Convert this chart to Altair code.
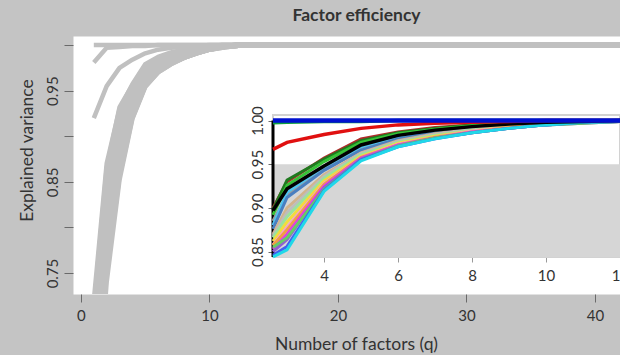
import altair as alt
import pandas as pd

# ---------------- data ----------------
q = [1, 2, 3, 4, 5, 6, 7, 8, 9, 10, 11, 12, 13, 50]

bundle_names = ["s01", "s02", "s03", "s04", "s05", "s06", "s07", "s08", "s09",
                "s10", "s11", "s12", "s13", "s14", "s15", "s16", "s17"]
bundle_colors = ["#b02a2a", "#1f7a1f", "#36c236", "#9a9a9a", "#4fc3f0", "#4a7fc0",
                 "#d2b48c", "#bdbdbd", "#9be39b", "#f2dc3c", "#f7a1c4", "#f0a040",
                 "#e040e0", "#9060d0", "#66cc66", "#4060f0", "#20d8e8"]
s01 = [0.72, 0.870, 0.930, 0.957, 0.979, 0.987, 0.992, 0.995, 0.997, 0.999, 1.0, 1.0, 1.0, 1.0]
s02 = [0.71, 0.865, 0.932, 0.956, 0.977, 0.986, 0.991, 0.995, 0.997, 0.999, 1.0, 1.0, 1.0, 1.0]
s03 = [0.70, 0.860, 0.926, 0.953, 0.975, 0.985, 0.990, 0.994, 0.997, 0.998, 0.999, 1.0, 1.0, 1.0]
s04 = [0.68, 0.850, 0.915, 0.946, 0.969, 0.981, 0.988, 0.992, 0.995, 0.998, 0.999, 1.0, 1.0, 1.0]
s05 = [0.67, 0.845, 0.918, 0.947, 0.970, 0.982, 0.988, 0.992, 0.995, 0.998, 0.999, 1.0, 1.0, 1.0]
s06 = [0.66, 0.840, 0.912, 0.943, 0.966, 0.979, 0.986, 0.991, 0.994, 0.997, 0.999, 1.0, 1.0, 1.0]
s07 = [0.64, 0.820, 0.900, 0.938, 0.963, 0.977, 0.985, 0.990, 0.994, 0.997, 0.999, 1.0, 1.0, 1.0]
s08 = [0.63, 0.815, 0.895, 0.936, 0.962, 0.976, 0.984, 0.990, 0.994, 0.997, 0.999, 1.0, 1.0, 1.0]
s09 = [0.62, 0.800, 0.890, 0.934, 0.961, 0.975, 0.983, 0.989, 0.993, 0.996, 0.998, 0.999, 1.0, 1.0]
s10 = [0.61, 0.790, 0.884, 0.931, 0.959, 0.974, 0.982, 0.988, 0.993, 0.996, 0.998, 0.999, 1.0, 1.0]
s11 = [0.60, 0.780, 0.878, 0.928, 0.958, 0.973, 0.981, 0.988, 0.992, 0.996, 0.998, 0.999, 1.0, 1.0]
s12 = [0.59, 0.775, 0.875, 0.927, 0.958, 0.972, 0.981, 0.987, 0.992, 0.996, 0.998, 0.999, 1.0, 1.0]
s13 = [0.58, 0.770, 0.870, 0.925, 0.957, 0.972, 0.980, 0.987, 0.991, 0.995, 0.998, 0.999, 1.0, 1.0]
s14 = [0.57, 0.760, 0.864, 0.923, 0.956, 0.971, 0.980, 0.986, 0.991, 0.995, 0.997, 0.999, 1.0, 1.0]
s15 = [0.58, 0.765, 0.866, 0.921, 0.955, 0.971, 0.980, 0.986, 0.991, 0.995, 0.997, 0.999, 1.0, 1.0]
s16 = [0.56, 0.750, 0.856, 0.920, 0.955, 0.970, 0.979, 0.986, 0.991, 0.995, 0.998, 0.999, 1.0, 1.0]
s17 = [0.55, 0.740, 0.852, 0.919, 0.954, 0.970, 0.979, 0.986, 0.991, 0.995, 0.998, 0.999, 1.0, 1.0]
bundle_values = [s01, s02, s03, s04, s05, s06, s07, s08, s09, s10, s11, s12, s13,
                 s14, s15, s16, s17]
# value of each line where it meets the left edge of the inset
bundle_edge = [0.900, 0.898, 0.892, 0.885, 0.880, 0.876, 0.870, 0.868, 0.866,
               0.862, 0.858, 0.857, 0.853, 0.850, 0.855, 0.846, 0.844]

black_values = [0.70, 0.855, 0.922, 0.948, 0.972, 0.983, 0.989, 0.993, 0.996, 0.998, 0.999, 1.0, 1.0, 1.0]
black_edge = 0.897
red_values = [0.920, 0.955, 0.975, 0.984, 0.991, 0.995, 0.997, 0.998, 0.999, 1.0, 1.0, 1.0, 1.0, 1.0]
red_edge = 0.967
green_values = [0.981, 0.997, 0.998, 0.999, 0.999, 1.0, 1.0, 1.0, 1.0, 1.0, 1.0, 1.0, 1.0, 1.0]
green_edge = 0.9975
blue_values = [1.0, 1.0, 1.0, 1.0, 1.0, 1.0, 1.0, 1.0, 1.0, 1.0, 1.0, 1.0, 1.0, 1.0]
blue_edge = 1.0

main_xlim = [-0.62, 41.95]
main_ylim = [0.727, 1.010]
main_xticks = [0, 10, 20, 30, 40]
main_yticks = [0.75, 0.80, 0.85, 0.90, 0.95, 1.00]
inset_xlim = [2.62, 12.0]
inset_ylim = [0.8439, 1.0063]
inset_xticks = [4, 6, 8, 10, 12]
inset_yticks = [0.85, 0.90, 0.95, 1.00]
inset_shade_top = 0.95

# ---------------- tables ----------------
all_names = bundle_names + ["black", "green", "red", "blue"]
all_colors = bundle_colors + ["#000000", "#10a040", "#e01010", "#0010d0"]
all_values = bundle_values + [black_values, green_values, red_values, blue_values]
all_edges = bundle_edge + [black_edge, green_edge, red_edge, blue_edge]

main_rows = []
inset_rows = []
for name, vals, edge in zip(all_names, all_values, all_edges):
    for qq, v in zip(q, vals):
        main_rows.append({"s": name, "q": qq, "v": v})
    inset_rows.append({"s": name, "x": inset_xlim[0], "v": edge})
    for qq, v in zip(q, vals):
        if qq >= 3 and qq <= 13:
            inset_rows.append({"s": name, "x": qq, "v": v})
main_df = pd.DataFrame(main_rows)
inset_df = pd.DataFrame(inset_rows)

box_df = pd.DataFrame([{"x0": inset_xlim[0], "x1": inset_xlim[1], "y0": inset_ylim[0], "y1": inset_ylim[1]}])
shade_df = pd.DataFrame([{"x0": inset_xlim[0], "x1": inset_xlim[1], "y0": inset_ylim[0], "y1": inset_shade_top}])
edge_df = pd.DataFrame([{"x": inset_xlim[0], "y0": inset_ylim[0], "y1": inset_yticks[-1]}])

FONT = "Lato"
TXT = "#333333"
BG = "#c4c4c4"
LINEGRAY = "#c0c0c0"

W, H = 547, 258
IN_X_RANGE = [200, 547]
IN_Y_RANGE = [221, 79]

xs_main = alt.Scale(domain=main_xlim, nice=False, zero=False)
ys_main = alt.Scale(domain=main_ylim, nice=False, zero=False)
xs_in = alt.Scale(domain=inset_xlim, range=IN_X_RANGE, nice=False, zero=False)
ys_in = alt.Scale(domain=inset_ylim, range=IN_Y_RANGE, nice=False, zero=False)
color_scale = alt.Scale(domain=all_names, range=all_colors)

main_x_axis = alt.Axis(
    values=main_xticks, orient="bottom", domain=False, grid=False, tickSize=8,
    tickColor="#6a6a6a", labelFontSize=15, labelColor=TXT, labelPadding=6,
    labelFlush=False, title="Number of factors (q)", titleFontSize=17.5,
    titleFontWeight="normal", titleColor=TXT, titleX=283, titleY=55,
    titleBaseline="alphabetic", titleAlign="center")
main_y_axis = alt.Axis(
    values=main_yticks, orient="left", domain=False, grid=False, tickSize=9,
    tickColor="#6a6a6a", labelAngle=270, labelAlign="center", labelBaseline="bottom",
    labelFontSize=15, labelColor=TXT, labelPadding=4, labelFlush=False,
    labelOverlap=False,
    labelExpr="(abs(datum.value-0.75)<0.001 || abs(datum.value-0.85)<0.001 || abs(datum.value-0.95)<0.001) ? format(datum.value, '.2f') : ''",
    title="Explained variance", titleFontSize=17.5, titleFontWeight="normal",
    titleColor=TXT, titleAngle=270, titleX=-41, titleY=114,
    titleBaseline="alphabetic", titleAlign="center")

inset_x_axis = alt.Axis(
    values=inset_xticks, orient="bottom", offset=-37, domain=True,
    domainColor="#b8b8b8", domainWidth=1, grid=False, tickSize=5,
    tickColor="#9a9a9a", labelFontSize=15, labelColor=TXT, labelPadding=6,
    labelFlush=False, labelOverlap=False, title=None)
inset_y_axis = alt.Axis(
    values=inset_yticks, orient="left", offset=-200, domain=False, grid=False,
    tickSize=5, tickColor="#6a6a6a", format=".2f", labelAngle=270,
    labelAlign="center", labelBaseline="bottom", labelFontSize=15,
    labelColor=TXT, labelPadding=3, labelFlush=False, labelOverlap=False,
    title=None)

main_lines = alt.Chart(main_df).mark_line(
    color=LINEGRAY, strokeWidth=4.5, clip=True, strokeJoin="round").encode(
    x=alt.X("q:Q", scale=xs_main, axis=main_x_axis),
    y=alt.Y("v:Q", scale=ys_main, axis=main_y_axis),
    detail="s:N", order="q:Q")

inset_box = alt.Chart(box_df).mark_rect(fill="white", stroke="#d2d2d2", strokeWidth=2).encode(
    x=alt.X("x0:Q", scale=xs_in, axis=None), x2="x1:Q",
    y=alt.Y("y0:Q", scale=ys_in, axis=None), y2="y1:Q")

inset_shade = alt.Chart(shade_df).mark_rect(fill="#d6d6d6").encode(
    x=alt.X("x0:Q", scale=xs_in, axis=None), x2="x1:Q",
    y=alt.Y("y0:Q", scale=ys_in, axis=None), y2="y1:Q")

inset_edge = alt.Chart(edge_df).mark_rule(color="black", strokeWidth=3).encode(
    x=alt.X("x:Q", scale=xs_in, axis=None),
    y=alt.Y("y0:Q", scale=ys_in, axis=None), y2="y1:Q")

bundle_df = inset_df[inset_df["s"].isin(bundle_names)]
inset_bundle = alt.Chart(bundle_df).mark_line(strokeWidth=3).encode(
    x=alt.X("x:Q", scale=xs_in, axis=inset_x_axis),
    y=alt.Y("v:Q", scale=ys_in, axis=inset_y_axis),
    color=alt.Color("s:N", scale=color_scale, legend=None),
    order="x:Q")

inset_black = alt.Chart(inset_df[inset_df["s"] == "black"]).mark_line(
    strokeWidth=3.5).encode(
    x=alt.X("x:Q", scale=xs_in, axis=None),
    y=alt.Y("v:Q", scale=ys_in, axis=None),
    color=alt.Color("s:N", scale=color_scale, legend=None),
    order="x:Q")

inset_green_red = alt.Chart(inset_df[inset_df["s"].isin(["green", "red"])]).mark_line(
    strokeWidth=3.5).encode(
    x=alt.X("x:Q", scale=xs_in, axis=None),
    y=alt.Y("v:Q", scale=ys_in, axis=None),
    color=alt.Color("s:N", scale=color_scale, legend=None),
    order="x:Q")

inset_blue = alt.Chart(inset_df[inset_df["s"] == "blue"]).mark_line(
    strokeWidth=4.5).encode(
    x=alt.X("x:Q", scale=xs_in, axis=None),
    y=alt.Y("v:Q", scale=ys_in, axis=None),
    color=alt.Color("s:N", scale=color_scale, legend=None),
    order="x:Q")

chart = alt.layer(
    main_lines, inset_box, inset_shade, inset_edge, inset_bundle,
    inset_black, inset_green_red, inset_blue
).resolve_scale(
    x="independent", y="independent"
).properties(
    width=W, height=H,
    padding={"left": 73, "top": 36, "right": 0, "bottom": 61},
    autosize=alt.AutoSizeParams(type="none"),
    background=BG,
    title=alt.TitleParams(
        "Factor efficiency", font=FONT, fontSize=17.5, fontWeight="bold",
        color=TXT, anchor="middle", dx=10, dy=17, baseline="alphabetic", offset=15),
).configure_view(
    fill="white", stroke="transparent"
).configure_axis(
    labelFont=FONT, titleFont=FONT
)

chart.save("out.html", embed_options={"renderer": "svg", "actions": False})
